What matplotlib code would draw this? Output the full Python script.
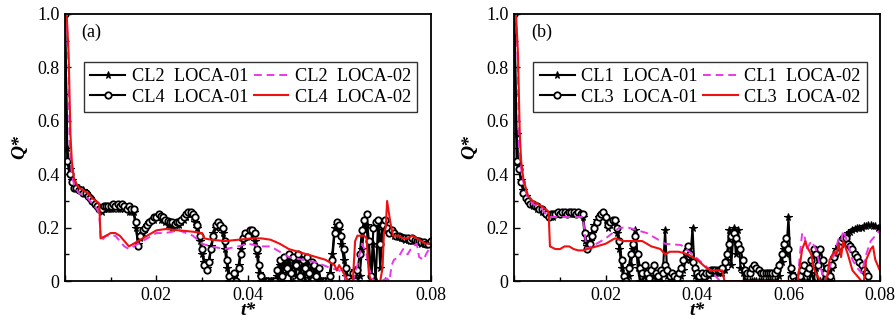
import matplotlib
matplotlib.use("Agg")
import matplotlib.pyplot as plt
import numpy as np

plt.rcParams['font.family'] = ['Liberation Serif', 'DejaVu Serif']

# common time grid of the LOCA-01 runs (step 0.0005)
t01 = np.linspace(0.0, 0.08, 161)

# panel (a) -------------------------------------------------------------
cl4_loca01 = [
    1.00, 0.45, 0.40, 0.37, 0.35, 0.35, 0.34, 0.34, 0.33, 0.33,
    0.32, 0.31, 0.30, 0.29, 0.28, 0.27, 0.27, 0.28, 0.28, 0.28,
    0.28, 0.29, 0.28, 0.29, 0.28, 0.29, 0.28, 0.27, 0.28, 0.27,
    0.27, 0.22, 0.13, 0.17, 0.19, 0.20, 0.21, 0.22, 0.23, 0.24,
    0.24, 0.25, 0.245, 0.24, 0.23, 0.225, 0.22, 0.22, 0.215, 0.22,
    0.22, 0.23, 0.24, 0.25, 0.26, 0.26, 0.25, 0.24, 0.21, 0.17,
    0.12, 0.06, 0.04, 0.07, 0.12, 0.17, 0.21, 0.22, 0.21, 0.20,
    0.15, 0.08, 0.02, 0.00, 0.03, 0.00, 0.05, 0.10, 0.16, 0.18,
    0.17, 0.19, 0.19, 0.18, 0.12, 0.06, 0.02, 0.00, 0.00, 0.00,
    0.00, 0.00, 0.00, 0.04, 0.08, 0.02, 0.09, 0.05, 0.10, 0.03,
    0.09, 0.06, 0.10, 0.02, 0.08, 0.05, 0.09, 0.03, 0.07, 0.06,
    0.02, 0.05, 0.00, 0.00, 0.00, 0.00, 0.02, 0.08, 0.18, 0.22,
    0.21, 0.17, 0.12, 0.05, 0.01, 0.00, 0.03, 0.00, 0.04, 0.10,
    0.19, 0.23, 0.25, 0.15, 0.02, 0.20, 0.22, 0.23, 0.14, 0.21,
    0.23, 0.20, 0.18, 0.19, 0.18, 0.17, 0.17, 0.165, 0.16, 0.16,
    0.16, 0.155, 0.16, 0.155, 0.15, 0.15, 0.145, 0.145, 0.14, 0.14,
    0.15]

cl2_loca01 = [
    1.00, 0.50, 0.42, 0.38, 0.36, 0.35, 0.35, 0.34, 0.34, 0.33,
    0.32, 0.31, 0.30, 0.29, 0.28, 0.27, 0.26, 0.27, 0.27, 0.27,
    0.27, 0.27, 0.28, 0.27, 0.27, 0.28, 0.27, 0.27, 0.26, 0.26,
    0.26, 0.20, 0.14, 0.16, 0.18, 0.20, 0.21, 0.22, 0.23, 0.23,
    0.24, 0.24, 0.23, 0.23, 0.22, 0.21, 0.21, 0.20, 0.21, 0.21,
    0.21, 0.22, 0.23, 0.24, 0.25, 0.25, 0.24, 0.22, 0.20, 0.15,
    0.10, 0.07, 0.05, 0.08, 0.13, 0.18, 0.20, 0.21, 0.20, 0.18,
    0.12, 0.05, 0.00, 0.00, 0.02, 0.00, 0.06, 0.12, 0.15, 0.17,
    0.18, 0.18, 0.17, 0.15, 0.10, 0.03, 0.00, 0.00, 0.00, 0.00,
    0.00, 0.00, 0.00, 0.02, 0.06, 0.00, 0.08, 0.03, 0.09, 0.00,
    0.08, 0.02, 0.09, 0.04, 0.07, 0.00, 0.08, 0.01, 0.06, 0.03,
    0.05, 0.00, 0.00, 0.00, 0.00, 0.00, 0.03, 0.10, 0.20, 0.21,
    0.19, 0.14, 0.08, 0.02, 0.00, 0.00, 0.00, 0.04, 0.00, 0.02,
    0.12, 0.20, 0.21, 0.08, 0.00, 0.14, 0.00, 0.21, 0.05, 0.19,
    0.22, 0.19, 0.18, 0.18, 0.17, 0.17, 0.165, 0.16, 0.16, 0.155,
    0.155, 0.15, 0.15, 0.15, 0.145, 0.145, 0.14, 0.14, 0.14, 0.14,
    0.14]

cl2_loca02_t = [0.0, 0.0004, 0.0008, 0.001, 0.0015, 0.002, 0.003, 0.004, 0.005,
                0.006, 0.007, 0.0075, 0.0079, 0.009, 0.010, 0.011, 0.012, 0.013,
                0.014, 0.015, 0.017, 0.020, 0.022, 0.025, 0.028, 0.030, 0.032,
                0.035, 0.038, 0.040, 0.043, 0.045, 0.047, 0.049, 0.052, 0.055,
                0.058, 0.060, 0.061, 0.0615, 0.063, 0.064, 0.065, 0.066, 0.0665,
                0.0675, 0.069, 0.0705, 0.071, 0.0715, 0.072, 0.073, 0.074, 0.075,
                0.076, 0.077, 0.0775, 0.0785, 0.079, 0.080]
cl2_loca02 = [1.00, 0.98, 0.80, 0.52, 0.40, 0.36, 0.33, 0.32, 0.31,
              0.29, 0.27, 0.25, 0.15, 0.17, 0.17, 0.17, 0.15, 0.13,
              0.12, 0.13, 0.15, 0.18, 0.18, 0.19, 0.17, 0.14, 0.13,
              0.12, 0.13, 0.14, 0.13, 0.13, 0.11, 0.09, 0.08, 0.07,
              0.05, 0.04, 0.03, 0.00, 0.00, 0.06, 0.14, 0.10, 0.05,
              0.00, 0.00, 0.01, 0.00, 0.06, 0.08, 0.09, 0.12, 0.10,
              0.13, 0.14, 0.09, 0.08, 0.10, 0.13]

cl4_loca02_t = [0.0, 0.0004, 0.0008, 0.0012, 0.0015, 0.002, 0.003, 0.004, 0.005,
                0.006, 0.0075, 0.0078, 0.009, 0.010, 0.011, 0.012, 0.013, 0.014,
                0.015, 0.016, 0.018, 0.020, 0.022, 0.025, 0.028, 0.030, 0.0305,
                0.032, 0.035, 0.038, 0.041, 0.043, 0.045, 0.047, 0.049, 0.051,
                0.053, 0.055, 0.057, 0.059, 0.0595, 0.060, 0.061, 0.062, 0.0625,
                0.063, 0.0635, 0.064, 0.0655, 0.066, 0.0665, 0.067, 0.069, 0.0695,
                0.0698, 0.0702, 0.0705, 0.0712, 0.0718, 0.073, 0.074, 0.075, 0.076,
                0.077, 0.078, 0.079, 0.080]
cl4_loca02 = [1.00, 0.99, 0.85, 0.55, 0.45, 0.38, 0.35, 0.34, 0.33,
              0.31, 0.29, 0.16, 0.17, 0.18, 0.18, 0.17, 0.15, 0.13,
              0.14, 0.15, 0.17, 0.19, 0.195, 0.19, 0.185, 0.18, 0.16,
              0.155, 0.15, 0.155, 0.16, 0.16, 0.155, 0.14, 0.12, 0.11,
              0.10, 0.09, 0.08, 0.06, 0.04, 0.06, 0.03, 0.00, 0.00,
              0.00, 0.15, 0.17, 0.17, 0.16, 0.03, 0.00, 0.00, 0.05,
              0.18, 0.20, 0.30, 0.22, 0.17, 0.17, 0.16, 0.16, 0.17,
              0.16, 0.15, 0.14, 0.14]

# panel (b) -------------------------------------------------------------
cl3_loca01 = [
    1.00, 0.45, 0.42, 0.37, 0.33, 0.31, 0.30, 0.29, 0.29, 0.28,
    0.28, 0.27, 0.27, 0.26, 0.25, 0.24, 0.25, 0.25, 0.25, 0.26,
    0.25, 0.26, 0.26, 0.25, 0.26, 0.26, 0.26, 0.25, 0.26, 0.25,
    0.25, 0.18, 0.12, 0.14, 0.17, 0.20, 0.22, 0.24, 0.25, 0.26,
    0.24, 0.21, 0.22, 0.23, 0.23, 0.20, 0.15, 0.08, 0.02, 0.00,
    0.05, 0.10, 0.14, 0.17, 0.10, 0.05, 0.03, 0.06, 0.03, 0.01,
    0.04, 0.06, 0.03, 0.02, 0.04, 0.03, 0.06, 0.04, 0.02, 0.03,
    0.02, 0.01, 0.03, 0.05, 0.08, 0.11, 0.13, 0.10, 0.07, 0.05,
    0.03, 0.02, 0.03, 0.02, 0.03, 0.03, 0.04, 0.04, 0.04, 0.04,
    0.04, 0.05, 0.07, 0.10, 0.14, 0.17, 0.18, 0.16, 0.14, 0.12,
    0.08, 0.04, 0.03, 0.03, 0.05, 0.06, 0.05, 0.04, 0.03, 0.03,
    0.03, 0.03, 0.03, 0.03, 0.03, 0.04, 0.06, 0.10, 0.14, 0.16,
    0.12, 0.05, 0.02, 0.00, 0.00, 0.02, 0.04, 0.06, 0.03, 0.05,
    0.08, 0.12, 0.10, 0.06, 0.12, 0.08, 0.03, 0.05, 0.02, 0.06,
    0.09, 0.11, 0.13, 0.15, 0.16, 0.16, 0.14, 0.13, 0.12, 0.10,
    0.09, 0.07, 0.06, 0.04, 0.03, 0.02, np.nan, np.nan, np.nan, np.nan,
    np.nan]

cl1_loca01 = [
    1.00, 0.55, 0.43, 0.38, 0.34, 0.32, 0.30, 0.29, 0.28, 0.28,
    0.27, 0.27, 0.26, 0.26, 0.25, 0.24, 0.24, 0.24, 0.25, 0.25,
    0.25, 0.25, 0.25, 0.25, 0.25, 0.25, 0.25, 0.25, 0.25, 0.25,
    0.24, 0.15, 0.13, 0.15, 0.18, 0.21, 0.23, 0.24, 0.25, 0.25,
    0.23, 0.20, 0.21, 0.22, 0.22, 0.18, 0.12, 0.05, 0.00, 0.00,
    0.02, 0.06, 0.12, 0.19, 0.05, 0.00, 0.00, 0.02, 0.00, 0.00,
    0.00, 0.02, 0.00, 0.00, 0.00, 0.03, 0.19, 0.02, 0.00, 0.00,
    0.00, 0.00, 0.00, 0.02, 0.04, 0.08, 0.12, 0.08, 0.20, 0.02,
    0.00, 0.00, 0.00, 0.00, 0.00, 0.02, 0.03, 0.03, 0.03, 0.03,
    0.03, 0.03, 0.04, 0.08, 0.19, 0.06, 0.20, 0.10, 0.19, 0.05,
    0.03, 0.00, 0.00, 0.00, 0.00, 0.00, 0.00, 0.00, 0.00, 0.00,
    0.00, 0.00, 0.00, 0.00, 0.00, 0.00, 0.02, 0.07, 0.12, 0.10,
    0.24, 0.03, 0.00, 0.00, 0.00, 0.00, 0.00, 0.00, 0.00, 0.00,
    0.03, 0.00, 0.05, 0.00, 0.00, 0.00, 0.04, 0.00, 0.00, 0.05,
    0.09, 0.12, 0.13, 0.14, 0.16, 0.17, 0.18, 0.185, 0.19, 0.195,
    0.20, 0.20, 0.20, 0.205, 0.205, 0.21, 0.21, 0.205, 0.205, 0.20,
    0.20]

cl1_loca02_t = [0.0, 0.0004, 0.0008, 0.001, 0.0015, 0.002, 0.003, 0.004, 0.005,
                0.006, 0.007, 0.0075, 0.015, 0.0158, 0.018, 0.020, 0.023, 0.025,
                0.027, 0.029, 0.031, 0.033, 0.0365, 0.039, 0.041, 0.043, 0.044,
                0.045, 0.062, 0.0625, 0.063, 0.0635, 0.064, 0.065, 0.066, 0.067,
                0.068, 0.069, 0.070, 0.071, 0.0715, 0.072, 0.073, 0.074, 0.075,
                0.076, 0.077, 0.078, 0.079, 0.080]
cl1_loca02 = [1.00, 0.98, 0.80, 0.50, 0.42, 0.37, 0.31, 0.29, 0.28,
              0.27, 0.25, 0.24, 0.24, 0.12, 0.14, 0.16, 0.20, 0.20,
              0.19, 0.18, 0.16, 0.14, 0.135, 0.10, 0.07, 0.04, 0.02,
              0.00, 0.00, 0.10, 0.18, 0.17, 0.12, 0.15, 0.12, 0.05,
              0.00, 0.05, 0.10, 0.16, 0.15, 0.19, 0.14, 0.08, 0.05,
              0.03, 0.10, 0.15, 0.17, 0.19]

cl3_loca02_t = [0.0, 0.0004, 0.0008, 0.0012, 0.0015, 0.002, 0.003, 0.004, 0.005,
                0.006, 0.0075, 0.0078, 0.009, 0.010, 0.011, 0.012, 0.013, 0.014,
                0.015, 0.016, 0.018, 0.020, 0.022, 0.023, 0.024, 0.026, 0.028,
                0.030, 0.032, 0.033, 0.034, 0.036, 0.038, 0.040, 0.042, 0.043,
                0.0455, 0.046, 0.062, 0.063, 0.0637, 0.064, 0.065, 0.0655, 0.066,
                0.067, 0.068, 0.0685, 0.069, 0.070, 0.0705, 0.071, 0.0715, 0.072,
                0.073, 0.074, 0.075, 0.076, 0.0765, 0.077, 0.078, 0.0785, 0.079,
                0.0795, 0.080]
cl3_loca02 = [1.00, 0.99, 0.85, 0.55, 0.45, 0.38, 0.32, 0.30, 0.29,
              0.28, 0.26, 0.13, 0.12, 0.12, 0.13, 0.13, 0.12, 0.115,
              0.115, 0.12, 0.13, 0.14, 0.16, 0.155, 0.15, 0.15, 0.15,
              0.13, 0.12, 0.10, 0.11, 0.11, 0.10, 0.08, 0.05, 0.04,
              0.04, 0.00, 0.00, 0.12, 0.15, 0.13, 0.10, 0.05, 0.03,
              0.00, 0.00, 0.02, 0.08, 0.11, 0.10, 0.14, 0.09, 0.15,
              0.10, 0.04, 0.02, 0.00, 0.00, 0.08, 0.12, 0.13, 0.08,
              0.06, 0.04]

panels = [
    dict(label='(a)', left=0.0725, names=('CL2', 'CL4'),
         star=cl2_loca01, circ=cl4_loca01,
         dash=(cl2_loca02_t, cl2_loca02), red=(cl4_loca02_t, cl4_loca02)),
    dict(label='(b)', left=0.574, names=('CL1', 'CL3'),
         star=cl1_loca01, circ=cl3_loca01,
         dash=(cl1_loca02_t, cl1_loca02), red=(cl3_loca02_t, cl3_loca02)),
]

fig = plt.figure(figsize=(8.96, 3.25), dpi=100)

for p in panels:
    ax = fig.add_axes([p['left'], 0.135, 0.408, 0.822])
    a, b = p['names']
    h1, = ax.plot(t01, p['star'], '-', color='black', lw=1.5, marker='*',
                  ms=5.5, mfc='black', mec='black', mew=0.8,
                  label=f'{a}  LOCA-01')
    h3, = ax.plot(t01, p['circ'], '-', color='black', lw=1.5, marker='o',
                  ms=4.6, mfc='white', mec='black', mew=1.3,
                  label=f'{b}  LOCA-01')
    h2, = ax.plot(p['dash'][0], p['dash'][1], '--', color='#e838e8', lw=1.4,
                  dashes=(4, 2.5), label=f'{a}  LOCA-02')
    h4, = ax.plot(p['red'][0], p['red'][1], '-', color='#ee1111', lw=1.5,
                  label=f'{b}  LOCA-02')

    ax.set_xlim(0, 0.08)
    ax.set_ylim(0, 1.0)
    ax.set_xticks([0.0, 0.02, 0.04, 0.06, 0.08])
    ax.set_xticklabels(['', '0.02', '0.04', '0.06', '0.08'])
    ax.set_xticks(np.arange(0.01, 0.08, 0.02), minor=True)
    ax.set_yticks([0, 0.2, 0.4, 0.6, 0.8, 1.0])
    ax.set_yticklabels(['0', '0.2', '0.4', '0.6', '0.8', '1.0'])
    ax.set_yticks(np.arange(0.1, 1.0, 0.2), minor=True)
    ax.tick_params(which='both', direction='in', labelsize=13, pad=4)
    ax.tick_params(which='major', length=4, width=1)
    ax.tick_params(which='minor', length=3, width=1)
    for s in ax.spines.values():
        s.set_linewidth(1.3)

    ax.set_xlabel('t*', fontsize=14, fontweight='bold', style='italic',
                  labelpad=-1)
    ax.set_ylabel('Q*', fontsize=14, fontweight='bold', style='italic',
                  labelpad=6)
    ax.text(0.045, 0.93, p['label'], transform=ax.transAxes, fontsize=13,
            va='center', ha='left')

    leg = ax.legend(handles=[h1, h3, h2, h4], ncol=2, loc='upper left',
                    bbox_to_anchor=(0.052, 0.822), fontsize=13.2,
                    frameon=True, fancybox=False, edgecolor='black',
                    handlelength=1.9, handletextpad=0.35, columnspacing=0.3,
                    labelspacing=0.2, borderpad=0.35, borderaxespad=0)
    leg.get_frame().set_linewidth(1.0)

fig.savefig('out.png', dpi=100)
